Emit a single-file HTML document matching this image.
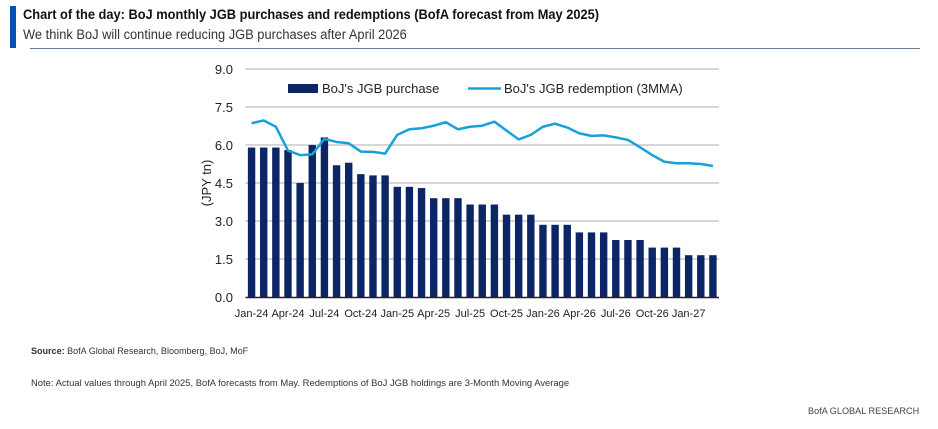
<!DOCTYPE html>
<html><head><meta charset="utf-8"><style>
body{margin:0;width:938px;height:429px;background:#fff;font-family:"Liberation Sans",Arial,sans-serif;overflow:hidden;position:relative}
.t{position:absolute;white-space:nowrap;transform-origin:0 0}
</style></head><body>
<div style="position:absolute;left:10px;top:6px;width:6px;height:42px;background:#0a4fb0"></div>
<div class="t" style="left:23px;top:7px;font-size:13.5px;font-weight:bold;color:#111;transform:scaleX(0.95)">Chart of the day: BoJ monthly JGB purchases and redemptions (BofA forecast from May 2025)</div>
<div class="t" style="left:23px;top:27px;font-size:13.5px;color:#333;transform:scaleX(0.953)">We think BoJ will continue reducing JGB purchases after April 2026</div>
<div style="position:absolute;left:30px;top:48px;width:890px;height:1px;background:#6a7f99"></div>
<svg id="chart" width="938" height="429" style="position:absolute;left:0;top:0"></svg>
<div class="t" style="left:31px;top:346px;font-size:9.5px;color:#333;transform:scaleX(0.95)"><b>Source:</b> BofA Global Research, Bloomberg, BoJ, MoF</div>
<div class="t" style="left:31px;top:378px;font-size:9.5px;color:#333;transform:scaleX(0.99)">Note: Actual values through April 2025, BofA forecasts from May. Redemptions of BoJ JGB holdings are 3-Month Moving Average</div>
<div class="t" style="left:808px;top:406px;font-size:9.5px;color:#444;transform:scaleX(0.96)">BofA GLOBAL RESEARCH</div>
<script>
const purchases=[5.9,5.9,5.9,5.8,4.5,6.0,6.3,5.2,5.3,4.85,4.8,4.8,4.35,4.35,4.3,3.9,3.9,3.9,3.65,3.65,3.65,3.25,3.25,3.25,2.85,2.85,2.85,2.55,2.55,2.55,2.25,2.25,2.25,1.95,1.95,1.95,1.65,1.65,1.65];
const redemptions=[6.86,6.97,6.72,5.78,5.6,5.63,6.24,6.12,6.07,5.74,5.73,5.66,6.4,6.62,6.66,6.76,6.9,6.62,6.72,6.76,6.92,6.57,6.22,6.4,6.72,6.84,6.69,6.46,6.36,6.38,6.3,6.2,5.91,5.6,5.34,5.28,5.28,5.25,5.17];
const xLabels=["Jan-24","Apr-24","Jul-24","Oct-24","Jan-25","Apr-25","Jul-25","Oct-25","Jan-26","Apr-26","Jul-26","Oct-26","Jan-27"];
const yTicks=[0,1.5,3,4.5,6,7.5,9];
const svg=document.getElementById('chart');const NS='http://www.w3.org/2000/svg';
const x0=245.5,x1=719,yb=297,yt=69,n=purchases.length,band=(x1-x0)/n;
const X=i=>x0+band*(i+0.5);const Y=v=>yb-(v/9)*(yb-yt);
function mk(t,a){const e=document.createElementNS(NS,t);for(const k in a)e.setAttribute(k,a[k]);svg.appendChild(e);return e;}
yTicks.forEach(v=>{
 if(v>0){const g=mk('line',{x1:x0,x2:x1,y1:Y(v),y2:Y(v),stroke:'#c8c8c8','stroke-width':1.5});
 
 }
 const t=mk('text',{x:233,y:Y(v)+5,'text-anchor':'end','font-size':13,fill:'#222','font-family':'Liberation Sans'});t.textContent=v.toFixed(1);
 
 
});
const yt2=mk('text',{x:0,y:0,transform:'translate(211,183) rotate(-90)','text-anchor':'middle','font-size':13,fill:'#222','font-family':'Liberation Sans'});yt2.textContent='(JPY tn)';


purchases.forEach((v,i)=>{const r=mk('rect',{x:X(i)-3.7,y:Y(v),width:7.4,height:yb-Y(v),fill:'#0c2565'});
 
 });
const ax=mk('line',{x1:x0,x2:x1,y1:yb+0.5,y2:yb+0.5,stroke:'#222','stroke-width':1.5});


xLabels.forEach((l,k)=>{const t=mk('text',{x:X(k*3),y:317,'text-anchor':'middle','font-size':11,fill:'#222','font-family':'Liberation Sans'});t.textContent=l;
 
 });
const pl=mk('polyline',{points:redemptions.map((v,i)=>X(i)+','+Y(v)).join(' '),fill:'none',stroke:'#18a0dc','stroke-width':2.5,'stroke-linejoin':'round'});


const ls=mk('rect',{x:288,y:84,width:30,height:9,fill:'#0c2565'});


const lt=mk('text',{x:322,y:93,'font-size':13,fill:'#222','font-family':'Liberation Sans'});lt.textContent="BoJ's JGB purchase";


const ll=mk('line',{x1:468,x2:501,y1:88.5,y2:88.5,stroke:'#18a0dc','stroke-width':2.5});


const lt2=mk('text',{x:504,y:93,'font-size':13,fill:'#222','font-family':'Liberation Sans'});lt2.textContent="BoJ's JGB redemption (3MMA)";


</script>
</body></html>
